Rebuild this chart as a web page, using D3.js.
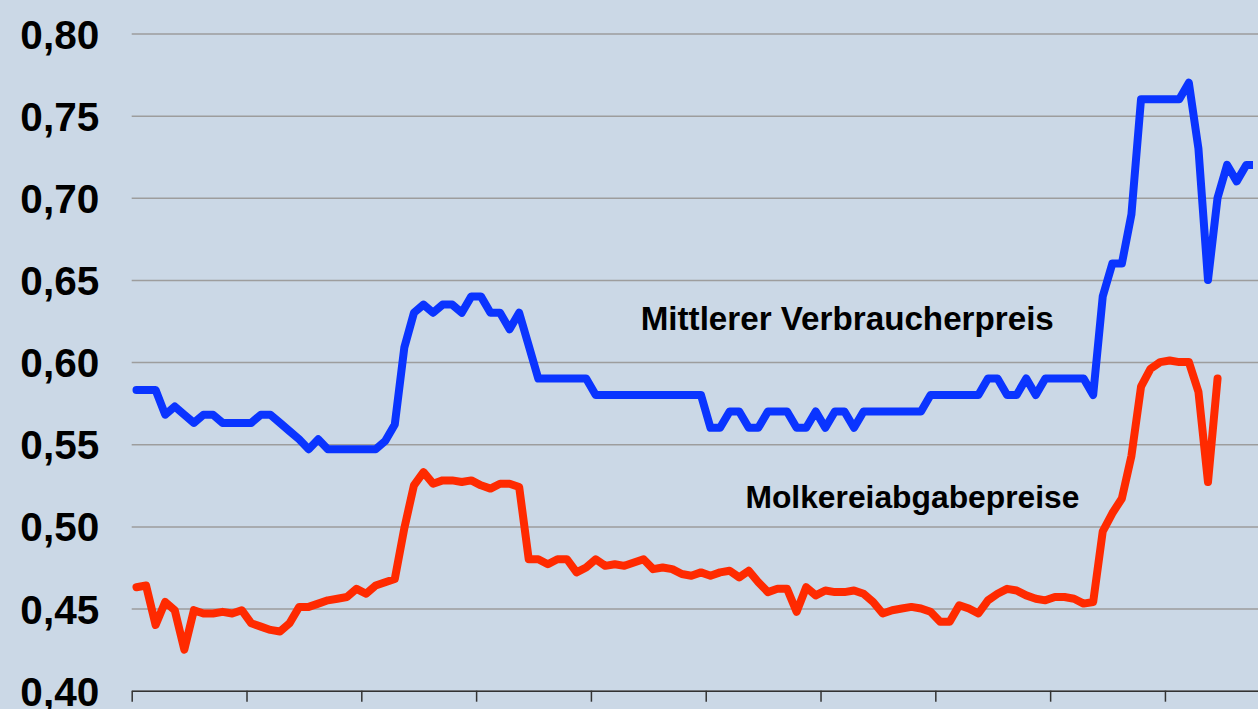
<!DOCTYPE html>
<html>
<head>
<meta charset="utf-8">
<script src="https://cdn.jsdelivr.net/npm/d3@7"></script>
<style>
    html, body { margin: 0; padding: 0; background: #cbd8e6; overflow: hidden; }
    svg { display: block; }
    text { font-family: Arial, "Liberation Sans", sans-serif; font-weight: bold; fill: #000; }
</style>
</head>
<body>
<svg id="chart" width="1258" height="709"></svg>
<script>
// monthly prices (EUR)
const verbraucherpreis = [
    0.583, 0.583, 0.583, 0.568, 0.573, 0.568, 0.563, 0.568, 0.568, 0.563,
    0.563, 0.563, 0.563, 0.568, 0.568, 0.563, 0.558, 0.553, 0.547, 0.553,
    0.547, 0.547, 0.547, 0.547, 0.547, 0.547, 0.552, 0.562, 0.609, 0.630,
    0.635, 0.630, 0.635, 0.635, 0.630, 0.640, 0.640, 0.630, 0.630, 0.620,
    0.630, 0.610, 0.590, 0.590, 0.590, 0.590, 0.590, 0.590, 0.580, 0.580,
    0.580, 0.580, 0.580, 0.580, 0.580, 0.580, 0.580, 0.580, 0.580, 0.580,
    0.560, 0.560, 0.570, 0.570, 0.560, 0.560, 0.570, 0.570, 0.570, 0.560,
    0.560, 0.570, 0.560, 0.570, 0.570, 0.560, 0.570, 0.570, 0.570, 0.570,
    0.570, 0.570, 0.570, 0.580, 0.580, 0.580, 0.580, 0.580, 0.580, 0.590,
    0.590, 0.580, 0.580, 0.590, 0.580, 0.590, 0.590, 0.590, 0.590, 0.590,
    0.580, 0.640, 0.660, 0.660, 0.690, 0.760, 0.760, 0.760, 0.760, 0.760,
    0.770, 0.730, 0.650, 0.700, 0.720, 0.710, 0.720, 0.720
];

const molkereipreis = [
    0.463, 0.464, 0.440, 0.454, 0.449, 0.425, 0.449, 0.447, 0.447, 0.448,
    0.447, 0.449, 0.441, 0.439, 0.437, 0.436, 0.441, 0.451, 0.451, 0.453,
    0.455, 0.456, 0.457, 0.462, 0.459, 0.464, 0.466, 0.468, 0.499, 0.525,
    0.533, 0.526, 0.528, 0.528, 0.527, 0.528, 0.525, 0.523, 0.526, 0.526,
    0.524, 0.480, 0.480, 0.477, 0.480, 0.480, 0.472, 0.475, 0.480, 0.476,
    0.477, 0.476, 0.478, 0.480, 0.474, 0.475, 0.474, 0.471, 0.470, 0.472,
    0.470, 0.472, 0.473, 0.469, 0.473, 0.466, 0.460, 0.462, 0.462, 0.448,
    0.463, 0.458, 0.461, 0.460, 0.460, 0.461, 0.459, 0.454, 0.447, 0.449,
    0.450, 0.451, 0.450, 0.448, 0.442, 0.442, 0.452, 0.450, 0.447, 0.455,
    0.459, 0.462, 0.461, 0.458, 0.456, 0.455, 0.457, 0.457, 0.456, 0.453,
    0.454, 0.497, 0.508, 0.517, 0.543, 0.585, 0.596, 0.600, 0.601, 0.600,
    0.600, 0.582, 0.527, 0.590
];

const yTicks = [0.40, 0.45, 0.50, 0.55, 0.60, 0.65, 0.70, 0.75, 0.80];
const monthsPerTick = 12;
const monthCount = 118;

const svg = d3.select("#chart");
const width = 1258;

const left = 131.7;
const x = d3.scaleLinear()
    .domain([-0.5, monthCount - 0.5])
    .range([left, left + monthCount * 9.567]);

const y = d3.scaleLinear()
    .domain([0.40, 0.80])
    .range([690.7, 33.5]);

// gridlines + y labels
const yAxis = d3.axisLeft(y)
    .tickValues(yTicks)
    .tickSizeInner(-(width - left))
    .tickSizeOuter(0)
    .tickPadding(32.5)
    .tickFormat(d => d3.format(".2f")(d).replace(".", ","));

const gy = svg.append("g")
    .attr("transform", `translate(${left},0)`)
    .call(yAxis);
gy.select(".domain").remove();
gy.selectAll(".tick line")
    .attr("stroke", "#9d9d9d")
    .attr("stroke-width", 1.5);
gy.selectAll(".tick text")
    .style("font-size", "40.5px")
    .attr("dy", "0.36em");

// x axis: ticks every 12 months, no labels
const xTickValues = d3.range(-0.5, monthCount, monthsPerTick);
const xAxis = d3.axisBottom(x)
    .tickValues(xTickValues)
    .tickSizeInner(11)
    .tickSizeOuter(0)
    .tickFormat("");

const gx = svg.append("g")
    .attr("transform", `translate(0,${y(0.40)})`)
    .call(xAxis);
gx.select(".domain").attr("stroke", "#333").attr("stroke-width", 1.5);
gx.selectAll(".tick line").attr("stroke", "#333").attr("stroke-width", 1.5);

// clip the lines at the right edge of the plot
svg.append("clipPath")
    .attr("id", "plotClip")
    .append("rect")
    .attr("x", left)
    .attr("y", 0)
    .attr("width", 1253 - left)
    .attr("height", 709);

const line = d3.line()
    .x((d, i) => x(i))
    .y(d => y(d));

const series = [
    { values: verbraucherpreis, color: "#0a34ff" },
    { values: molkereipreis, color: "#ff2a00" }
];

svg.append("g")
    .attr("clip-path", "url(#plotClip)")
    .selectAll("path")
    .data(series)
    .enter()
    .append("path")
    .attr("d", d => line(d.values))
    .attr("fill", "none")
    .attr("stroke", d => d.color)
    .attr("stroke-width", 8)
    .attr("stroke-linejoin", "round")
    .attr("stroke-linecap", "round");

// series labels
svg.append("text")
    .attr("x", x(52.7))
    .attr("y", y(0.6194))
    .style("font-size", "33.2px")
    .text("Mittlerer Verbraucherpreis");

svg.append("text")
    .attr("x", x(63.65))
    .attr("y", y(0.5109))
    .style("font-size", "31.8px")
    .text("Molkereiabgabepreise");
</script>
</body>
</html>
